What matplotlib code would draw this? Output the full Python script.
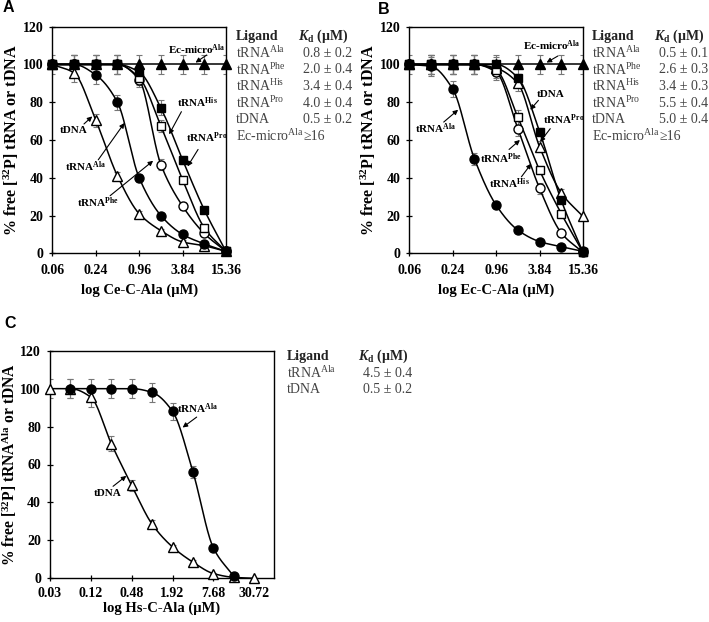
import numpy as np
import matplotlib
matplotlib.use('Agg')
from matplotlib import pyplot as plt
from matplotlib.ticker import NullLocator

plt.rcParams['font.family'] = 'Liberation Serif'
plt.rcParams['mathtext.fontset'] = 'custom'
plt.rcParams['mathtext.rm'] = 'Liberation Serif'
plt.rcParams['mathtext.bf'] = 'Liberation Serif:bold'
plt.rcParams['mathtext.it'] = 'Liberation Serif:italic:bold'

# concentrations (uM)
conc_ab = [0.06, 0.12, 0.24, 0.48, 0.96, 1.92, 3.84, 7.68, 15.36]
conc_c = [0.03, 0.06, 0.12, 0.24, 0.48, 0.96, 1.92, 3.84, 7.68, 15.36, 30.72]
ticks_ab = [0.06, 0.24, 0.96, 3.84, 15.36]
ticks_c = [0.03, 0.12, 0.48, 1.92, 7.68, 30.72]

# panel A, Ce-C-Ala
a_ec = [100, 100, 100, 100, 100, 100, 100, 100, 100]
a_ala = [100, 100, 94.5, 80, 40, 20, 10, 5, 1]
a_tdna = [100, 95.5, 70.5, 41, 21, 12, 6, 4, 1]
a_phe = [100, 100, 100, 100, 92, 47, 25, 10.5, 1]
a_his = [100, 100, 100, 100, 93, 67.5, 39, 13.5, 1]
a_pro = [100, 100, 100, 100, 96, 77, 49.5, 23, 1]
a_ec_err = [5, 5, 5, 5, 5, 5, 5, 5, 5]
a_ala_err = [0, 5, 5, 4, 2, 1.5, 1, 1, 0.5]
a_tdna_err = [0, 5, 3.5, 2, 1.5, 1, 1, 0.5, 0.5]
a_phe_err = [0, 5, 5, 5, 4, 3, 2, 1, 0.5]
a_his_err = [0, 5, 5, 5, 4, 3, 2, 1.5, 0.5]
a_pro_err = [0, 5, 5, 5, 4, 4, 2, 1.5, 0.5]

# panel B, Ec-C-Ala
b_ec = [100, 100, 100, 100, 100, 100, 100, 100, 100]
b_ala = [100, 99, 87, 50, 25.5, 12.3, 6.2, 3.5, 1]
b_tdna = [100, 100, 100, 100, 98, 90, 56.4, 32, 19.5]
b_phe = [100, 100, 100, 100, 96, 66, 34.4, 10.8, 0.5]
b_his = [100, 100, 100, 100, 97, 72, 44, 21, 0.5]
b_pro = [100, 100, 100, 100, 100, 93, 64.4, 28, 0.5]
b_ec_err = [5, 5, 5, 5, 5, 5, 5, 5, 5]
b_ala_err = [0, 5, 4, 3, 1.5, 1, 1, 0.5, 0.5]
b_tdna_err = [0, 5, 5, 5, 4, 4, 3, 2, 1]
b_phe_err = [0, 5, 5, 5, 4, 4, 3, 1, 0.5]
b_his_err = [0, 5, 5, 5, 4, 4, 2, 1.5, 0.5]
b_pro_err = [0, 5, 5, 5, 4, 2, 2, 1.5, 0.5]

# panel C, Hs-C-Ala
c_ala_conc = [0.06, 0.12, 0.24, 0.48, 0.96, 1.92, 3.84, 7.68, 15.36]
c_ala = [100, 100, 100, 100, 98, 88, 56, 16, 1]
c_tdna = [100, 100, 95.5, 71, 49, 28.5, 16.5, 8.5, 2.5, 0.5, 0]
c_ala_err = [5, 5, 5, 5, 5, 4.5, 3, 1, 0.5]
c_tdna_err = [5, 5, 5, 4, 3, 2, 1, 1, 0.5, 0.5, 0]

tab_a = [('tRNA$^{\\mathrm{Ala}}$', '0.8 ± 0.2'), ('tRNA$^{\\mathrm{Phe}}$', '2.0 ± 0.4'),
         ('tRNA$^{\\mathrm{His}}$', '3.4 ± 0.4'), ('tRNA$^{\\mathrm{Pro}}$', '4.0 ± 0.4'),
         ('tDNA', '0.5 ± 0.2'), ('Ec-micro$^{\\mathrm{Ala}}$', '≥16')]
tab_b = [('tRNA$^{\\mathrm{Ala}}$', '0.5 ± 0.1'), ('tRNA$^{\\mathrm{Phe}}$', '2.6 ± 0.3'),
         ('tRNA$^{\\mathrm{His}}$', '3.4 ± 0.3'), ('tRNA$^{\\mathrm{Pro}}$', '5.5 ± 0.4'),
         ('tDNA', '5.0 ± 0.4'), ('Ec-micro$^{\\mathrm{Ala}}$', '≥16')]
tab_c = [('tRNA$^{\\mathrm{Ala}}$', '4.5 ± 0.4'), ('tDNA', '0.5 ± 0.2')]


def smooth(x, y, n=300):
    # monotone cubic through the points, in log2 space (for drawing only)
    x = np.log2(np.asarray(x, float))
    y = np.asarray(y, float)
    h = np.diff(x)
    d = np.diff(y) / h
    m = np.zeros(len(x))
    m[0], m[-1] = d[0], d[-1]
    for k in range(1, len(x) - 1):
        if d[k - 1] * d[k] > 0:
            w1 = 2 * h[k] + h[k - 1]
            w2 = h[k] + 2 * h[k - 1]
            m[k] = (w1 + w2) / (w1 / d[k - 1] + w2 / d[k])
    xs = np.linspace(x[0], x[-1], n)
    idx = np.clip(np.searchsorted(x, xs) - 1, 0, len(x) - 2)
    t = (xs - x[idx]) / h[idx]
    h00 = 2 * t**3 - 3 * t**2 + 1
    h10 = t**3 - 2 * t**2 + t
    h01 = -2 * t**3 + 3 * t**2
    h11 = t**3 - t**2
    ys = h00 * y[idx] + h10 * h[idx] * m[idx] + h01 * y[idx + 1] + h11 * h[idx] * m[idx + 1]
    return 2**xs, ys


def series(ax, x, y, err, marker, filled, z):
    xs, ys = smooth(x, y)
    ax.plot(xs, ys, color='k', lw=1.1, zorder=2, clip_on=False)
    ax.errorbar(x, y, yerr=err, fmt='none', ecolor='#777777', elinewidth=0.8,
                capsize=2.5, capthick=0.8, zorder=1)
    ax.plot(x, y, linestyle='none', marker=marker, ms=6.5 if marker != 's' else 5.5,
            mfc='k' if filled else 'white', mec='k', mew=1.0, zorder=z, clip_on=False)


def style(ax, ticks, xlim, xlabel, ylabel, ysize=11.5, xpad=5, lpad=5):
    ax.set_xscale('log', base=2)
    ax.set_xlim(*xlim)
    ax.set_ylim(0, 120)
    ax.set_xticks(ticks)
    ax.set_xticklabels(['%g' % t for t in ticks])
    ax.xaxis.set_minor_locator(NullLocator())
    ax.set_yticks(range(0, 121, 20))
    ax.tick_params(direction='inout', length=5, width=0.9, labelsize=10)
    ax.tick_params(axis='x', pad=xpad)
    ax.tick_params(axis='y', pad=4)
    for lab in ax.get_xticklabels() + ax.get_yticklabels():
        lab.set_fontweight('bold')
    for sp in ax.spines.values():
        sp.set_linewidth(1.0)
    ax.set_xlabel(xlabel, fontsize=10.5, fontweight='bold', labelpad=lpad)
    ax.set_ylabel(ylabel, fontsize=ysize, fontweight='bold', labelpad=1)


def label(ax, text, xy, tail, tip):
    ax.text(xy[0], xy[1], text, fontsize=8, fontweight='bold', ha='center', va='center', zorder=6)
    ax.annotate('', xy=tip, xytext=tail,
                arrowprops=dict(arrowstyle='-|>', color='k', lw=0.8, mutation_scale=7,
                                shrinkA=0, shrinkB=0), zorder=6)


def table(fig, x0, x1, y0, rows):
    W, H = 709.0, 622.0
    fig.text(x0 / W, 1 - y0 / H, 'Ligand', fontsize=10, fontweight='bold', va='center', color='#222222')
    fig.text(x1 / W, 1 - y0 / H, '$K_{\\mathbf{d}}$ (μM)', fontsize=10, fontweight='bold',
             va='center', color='#222222')
    for i, (name, val) in enumerate(rows):
        y = 1 - (y0 + 16.6 * (i + 1)) / H
        fig.text(x0 / W, y, name, fontsize=10, va='center', color='#444444')
        fig.text((x1 + 5) / W, y, val, fontsize=10, va='center', color='#444444')


fig = plt.figure(figsize=(7.09, 6.22), dpi=100)
ax_a = fig.add_axes([52.3 / 709, 1 - 253.3 / 622, 173.7 / 709, 226.6 / 622])
ax_b = fig.add_axes([409.3 / 709, 1 - 253.3 / 622, 173.7 / 709, 226.6 / 622])
ax_c = fig.add_axes([50 / 709, 1 - 578.3 / 622, 224 / 709, 227.6 / 622])

ylab = '% free [$^{\\mathbf{32}}$P] tRNA or tDNA'

# A
series(ax_a, conc_ab, a_ec, a_ec_err, '^', True, 3)
series(ax_a, conc_ab, a_tdna, a_tdna_err, '^', False, 4)
series(ax_a, conc_ab, a_phe, a_phe_err, 'o', False, 4)
series(ax_a, conc_ab, a_his, a_his_err, 's', False, 4)
series(ax_a, conc_ab, a_ala, a_ala_err, 'o', True, 5)
series(ax_a, conc_ab, a_pro, a_pro_err, 's', True, 5)
style(ax_a, ticks_ab, (0.06, 15.36), 'log Ce-C-Ala (μM)', ylab)
label(ax_a, 'Ec-micro$^{\\mathbf{Ala}}$', (6.0, 108), (8.3, 105), (5.8, 101))
label(ax_a, 'tDNA', (0.118, 65), (0.165, 68.5), (0.215, 72.5))
label(ax_a, 'tRNA$^{\\mathbf{Ala}}$', (0.175, 46), (0.26, 49.5), (0.6, 69))
label(ax_a, 'tRNA$^{\\mathbf{Phe}}$', (0.26, 27), (0.38, 30.5), (1.5, 49))
label(ax_a, 'tRNA$^{\\mathbf{His}}$', (6.2, 80), (3.7, 75), (2.5, 63))
label(ax_a, 'tRNA$^{\\mathbf{Pro}}$', (8.3, 61), (6.3, 55), (4.5, 46))

# B
series(ax_b, conc_ab, b_ec, b_ec_err, '^', True, 3)
series(ax_b, conc_ab, b_tdna, b_tdna_err, '^', False, 4)
series(ax_b, conc_ab, b_phe, b_phe_err, 'o', False, 4)
series(ax_b, conc_ab, b_his, b_his_err, 's', False, 4)
series(ax_b, conc_ab, b_ala, b_ala_err, 'o', True, 5)
series(ax_b, conc_ab, b_pro, b_pro_err, 's', True, 5)
style(ax_b, ticks_ab, (0.06, 15.36), 'log Ec-C-Ala (μM)', ylab)
label(ax_b, 'Ec-micro$^{\\mathbf{Ala}}$', (5.6, 110), (6.9, 104.5), (4.8, 101))
label(ax_b, 'tDNA', (5.4, 84), (3.7, 81), (2.85, 76))
label(ax_b, 'tRNA$^{\\mathbf{Pro}}$', (8.2, 70.5), (5.4, 66), (3.9, 59))
label(ax_b, 'tRNA$^{\\mathbf{Phe}}$', (1.12, 50), (1.45, 55), (2.05, 60))
label(ax_b, 'tRNA$^{\\mathbf{His}}$', (1.45, 37), (2.15, 40.5), (2.95, 47.5))
label(ax_b, 'tRNA$^{\\mathbf{Ala}}$', (0.14, 66), (0.18, 69.5), (0.285, 76))

# C
series(ax_c, conc_c, c_tdna, c_tdna_err, '^', False, 4)
series(ax_c, c_ala_conc, c_ala, c_ala_err, 'o', True, 5)
style(ax_c, ticks_c, (0.03, 60), 'log Hs-C-Ala (μM)',
      '% free [$^{\\mathbf{32}}$P] tRNA$^{\\mathbf{Ala}}$ or tDNA', ysize=11.2, xpad=4, lpad=1)
label(ax_c, 'tRNA$^{\\mathbf{Ala}}$', (4.5, 89.5), (4.35, 85), (2.7, 79.5))
label(ax_c, 'tDNA', (0.21, 44.5), (0.255, 48.5), (0.4, 54))

table(fig, 236, 298, 36.7, tab_a)
table(fig, 591.7, 654, 36.7, tab_b)
table(fig, 286.7, 358, 356.7, tab_c)

for t, x, y in [('A', 3, 8), ('B', 378, 9), ('C', 4, 324)]:
    fig.text(x / 709, 1 - y / 622, t, fontsize=11.5, fontweight='bold', family='Liberation Sans',
             va='center')

fig.savefig('out.png', dpi=100)
